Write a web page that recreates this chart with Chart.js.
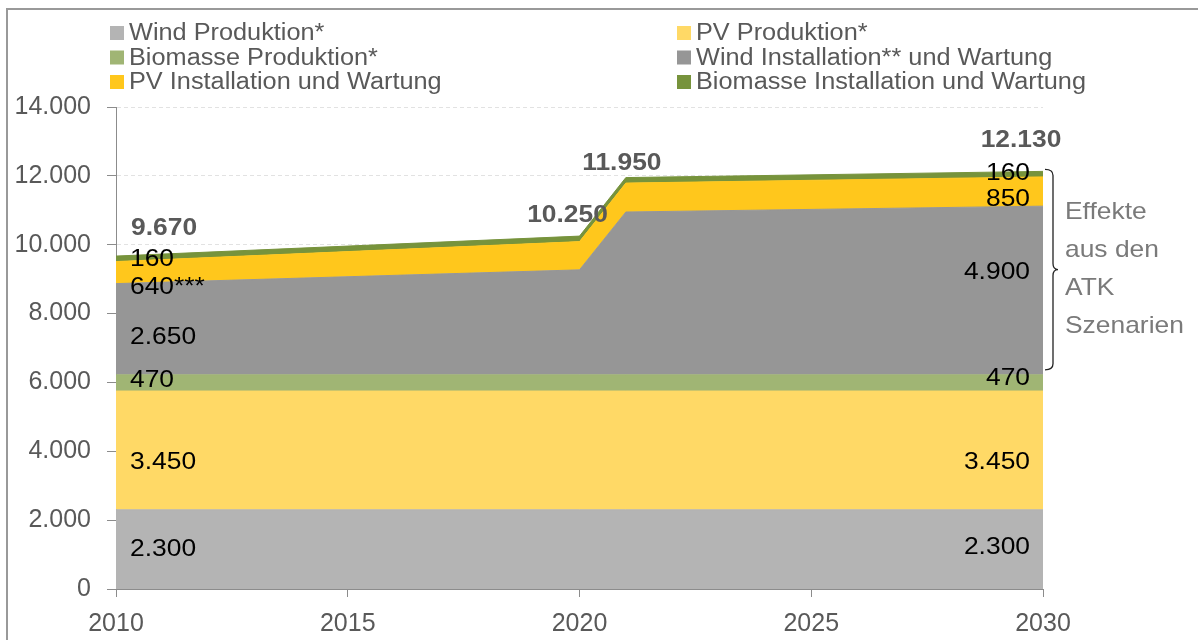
<!DOCTYPE html>
<html>
<head>
<meta charset="utf-8">
<script src="https://cdn.jsdelivr.net/npm/chart.js@4.4.1/dist/chart.umd.min.js"></script>
<style>
  html, body { margin: 0; padding: 0; background: #fff; }
</style>
</head>
<body>
<canvas id="myChart" width="1198" height="640"></canvas>
<script>
// data
var years = [2010, 2020, 2021, 2030];
var windProd = [2300, 2300, 2300, 2300];
var pvProd = [3450, 3450, 3450, 3450];
var bioProd = [470, 470, 470, 470];
var windInst = [2650, 3050, 4730, 4900];
var pvInst = [640, 820, 840, 850];
var bioInst = [160, 160, 160, 160];

var seriesNames = ['Wind Produktion*', 'PV Produktion*', 'Biomasse Produktion*',
  'Wind Installation** und Wartung', 'PV Installation und Wartung', 'Biomasse Installation und Wartung'];
var seriesColors = ['#b4b4b4', '#ffd966', '#a0b574', '#969696', '#ffc71c', '#77933c'];
var firstSuffix = ['', '', '', '', '***', ''];
var xTicks = [2010, 2015, 2020, 2025, 2030];
var yTicks = [0, 2000, 4000, 6000, 8000, 10000, 12000, 14000];
var noteLines = ['Effekte', 'aus den', 'ATK', 'Szenarien'];

var FONT = '"Liberation Sans", Arial, sans-serif';
var GREY = '#595959';
var STRETCH = 1.1; // text in the picture is a bit wider than plain Arial

function fmt(v) { return v.toLocaleString('de-DE'); }
function pts(arr) { return years.map(function(y, i){ return {x: y, y: arr[i]}; }); }

function wideText(ctx, txt, x, y, align) {
  ctx.save();
  ctx.translate(x, y);
  ctx.scale(STRETCH, 1);
  ctx.textAlign = align;
  ctx.fillText(txt, 0, 0);
  ctx.restore();
}

var allSeries = [windProd, pvProd, bioProd, windInst, pvInst, bioInst];
var datasets = allSeries.map(function(arr, i){
  return {
    label: seriesNames[i],
    data: pts(arr),
    backgroundColor: seriesColors[i],
    borderColor: seriesColors[i],
    borderWidth: 1,
    pointRadius: 0,
    fill: i === 0 ? 'origin' : '-1',
    tension: 0
  };
});

// frame, legend, value labels, brace
var decor = {
  id: 'decor',
  beforeDraw: function(chart) {
    var ctx = chart.ctx;
    ctx.save();
    ctx.fillStyle = '#fff';
    ctx.fillRect(0, 0, chart.width, chart.height);
    ctx.strokeStyle = '#999';
    ctx.lineWidth = 2;
    ctx.beginPath();
    ctx.moveTo(7, chart.height);
    ctx.lineTo(7, 9);
    ctx.lineTo(chart.width, 9);
    ctx.stroke();
    ctx.restore();
  },
  afterDraw: function(chart) {
    var ctx = chart.ctx;
    var xs = chart.scales.x, ys = chart.scales.y;
    ctx.save();
    ctx.textBaseline = 'middle';

    // legend, two columns
    ctx.font = '23px ' + FONT;
    chart.data.datasets.forEach(function(ds, i){
      var col = i % 2, row = Math.floor(i / 2);
      var bx = col === 0 ? 110 : 677;
      var by = 33 + row * 24.5;
      ctx.fillStyle = ds.backgroundColor;
      ctx.fillRect(bx, by - 7, 14, 14);
      ctx.fillStyle = GREY;
      wideText(ctx, ds.label, bx + 19, by + 1, 'left');
    });

    // values inside the bands, at first and last year
    var n = years.length;
    var leftOff = [0, 12, -3, 8, 15, 1];
    var rightOff = [-2, 12, -5, -18, 8, -1];
    ctx.font = '24px ' + FONT;
    ctx.fillStyle = '#000';
    var cumFirst = 0, cumLast = 0;
    allSeries.forEach(function(arr, i){
      var v0 = arr[0], v1 = arr[n - 1];
      var y0 = ys.getPixelForValue(cumFirst + v0 / 2) + leftOff[i];
      var y1 = ys.getPixelForValue(cumLast + v1 / 2) + rightOff[i];
      cumFirst += v0; cumLast += v1;
      wideText(ctx, fmt(v0) + firstSuffix[i], xs.getPixelForValue(years[0]) + 14, y0, 'left');
      wideText(ctx, fmt(v1), xs.getPixelForValue(years[n - 1]) - 13, y1, 'right');
    });

    // totals above the stack
    var totDx = [15, -12, -4, -22];
    var totDy = [-28, -21, -14, -31];
    var totAlign = ['left', 'center', 'center', 'center'];
    ctx.font = 'bold 24px ' + FONT;
    ctx.fillStyle = GREY;
    years.forEach(function(yr, j){
      var tot = 0;
      allSeries.forEach(function(arr){ tot += arr[j]; });
      wideText(ctx, fmt(tot), xs.getPixelForValue(yr) + totDx[j], ys.getPixelForValue(tot) + totDy[j], totAlign[j]);
    });

    // brace for the scenario effects (installation parts, last year)
    var base = windProd[n - 1] + pvProd[n - 1] + bioProd[n - 1];
    var top = base + windInst[n - 1] + pvInst[n - 1] + bioInst[n - 1];
    var yTop = ys.getPixelForValue(top) - 2;
    var yBot = ys.getPixelForValue(base) - 5;
    var yMid = (yTop + yBot) / 2;
    var xr = xs.getPixelForValue(years[n - 1]);
    var x0 = xr + 2, x1 = xr + 10, x2 = xr + 15;
    ctx.strokeStyle = '#222';
    ctx.lineWidth = 1.3;
    ctx.beginPath();
    ctx.moveTo(x0, yTop);
    ctx.quadraticCurveTo(x1, yTop, x1, yTop + 6);
    ctx.lineTo(x1, yMid - 6);
    ctx.quadraticCurveTo(x1, yMid, x2, yMid);
    ctx.quadraticCurveTo(x1, yMid, x1, yMid + 6);
    ctx.lineTo(x1, yBot - 6);
    ctx.quadraticCurveTo(x1, yBot, x0, yBot);
    ctx.stroke();

    ctx.font = '24px ' + FONT;
    ctx.fillStyle = '#7a7a7a';
    noteLines.forEach(function(t, k){
      wideText(ctx, t, xr + 22, yMid + (k - 1.5) * 38, 'left');
    });
    ctx.restore();
  }
};

var myChart = new Chart(document.getElementById('myChart').getContext('2d'), {
  type: 'line',
  data: { datasets: datasets },
  plugins: [decor],
  options: {
    responsive: false,
    animation: false,
    locale: 'de-DE',
    layout: { padding: { left: 0, right: 155, top: 107, bottom: 0 } },
    plugins: { legend: { display: false }, tooltip: { enabled: false } },
    scales: {
      x: {
        type: 'linear',
        min: 2010, max: 2030,
        afterBuildTicks: function(s){ s.ticks = xTicks.map(function(v){ return {value: v}; }); },
        afterFit: function(s){ s.height = 51; },
        ticks: {
          callback: function(v){ return String(v); },
          color: GREY, padding: 12, maxRotation: 0,
          font: { family: FONT, size: 25 }
        },
        grid: { drawOnChartArea: false, tickLength: 8, tickColor: '#8c8c8c' },
        border: { color: '#8c8c8c', width: 1 }
      },
      y: {
        stacked: true,
        min: 0, max: 14000,
        afterBuildTicks: function(s){ s.ticks = yTicks.map(function(v){ return {value: v}; }); },
        afterFit: function(s){ s.width = 116; },
        ticks: {
          callback: function(v){ return fmt(v); },
          color: GREY, padding: 16,
          font: { family: FONT, size: 25 }
        },
        grid: { color: '#e2e2e2', tickColor: '#8c8c8c', tickLength: 9 },
        border: { color: '#8c8c8c', width: 1, dash: [4, 3] }
      }
    }
  }
});
</script>
</body>
</html>
